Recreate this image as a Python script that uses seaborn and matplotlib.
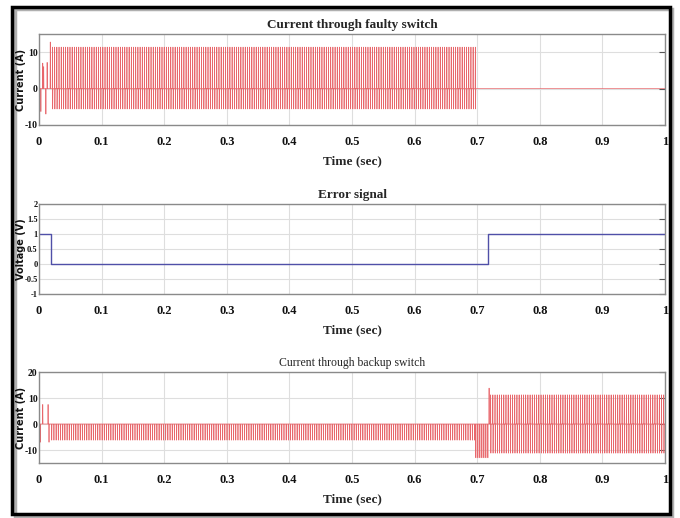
import numpy as np
import pandas as pd
import matplotlib
matplotlib.use("Agg")
import matplotlib.pyplot as plt
import seaborn as sns
from matplotlib.patches import Rectangle

# ---------------- data ----------------
x_ticks = [0, 0.1, 0.2, 0.3, 0.4, 0.5, 0.6, 0.7, 0.8, 0.9, 1]
x_tick_labels = ["0", "0.1", "0.2", "0.3", "0.4", "0.5", "0.6", "0.7", "0.8", "0.9", "1"]

# faulty switch: isolated transient spikes (time, value)
faulty_spike_t = [0.003, 0.006, 0.0075, 0.011, 0.013, 0.018]
faulty_spike_v = [-6.3, 7.0, 6.0, -7.0, 7.2, 12.8]
# faulty switch pulse train segments: start, stop, period, peak high, peak low
faulty_train_start = [0.0215]
faulty_train_stop = [0.699]
faulty_train_period = [0.0035]
faulty_train_high = [11.4]
faulty_train_low = [-5.6]

# error signal steps
error_t = [0.0, 0.019, 0.019, 0.717, 0.717, 1.0]
error_v = [1.0, 1.0, 0.0, 0.0, 1.0, 1.0]

# backup switch transient spikes
backup_spike_t = [0.002, 0.006, 0.0145, 0.016]
backup_spike_v = [-7.0, 7.5, 7.5, -7.0]
backup_train_start = [0.02, 0.6975, 0.7215]
backup_train_stop = [0.697, 0.717, 1.0]
backup_train_period = [0.0035, 0.0032, 0.0035]
backup_train_high = [0.0, 0.0, 11.2]
backup_train_low = [-6.2, -13.0, -11.2]
backup_big_spike_t = [0.719]
backup_big_spike_v = [13.8]


def build_wave(spike_t, spike_v, starts, stops, periods, highs, lows, w=0.00035):
    pts = [(0.0, 0.0)]
    for ts, vs in zip(spike_t, spike_v):
        pts += [(ts - w, 0.0), (ts, vs), (ts + w, 0.0)]
    for s, e, p, h, l in zip(starts, stops, periods, highs, lows):
        tp = s
        while tp < e:
            pts += [(tp - w, 0.0), (tp, h), (tp + w, l), (tp + 2 * w, 0.0)]
            tp += p
    pts.append((1.0, 0.0))
    pts.sort(key=lambda q: q[0])
    return pd.DataFrame(pts, columns=["t", "v"])


faulty_df = build_wave(faulty_spike_t, faulty_spike_v, faulty_train_start,
                       faulty_train_stop, faulty_train_period,
                       faulty_train_high, faulty_train_low)
backup_df = build_wave(backup_spike_t + backup_big_spike_t,
                       backup_spike_v + backup_big_spike_v,
                       backup_train_start, backup_train_stop,
                       backup_train_period, backup_train_high, backup_train_low)
error_df = pd.DataFrame({"t": error_t, "v": error_v})

# ---------------- figure ----------------
sns.set_theme(style="whitegrid")
plt.rcParams["font.family"] = ["Liberation Serif", "DejaVu Serif"]

fig = plt.figure(figsize=(6.8, 5.18), dpi=100)
fig.patch.set_facecolor("white")

W, H = 680.0, 518.0
def box(l, r, t, b):
    return [l / W, 1 - b / H, (r - l) / W, (b - t) / H]

ax1 = fig.add_axes(box(39, 665, 34, 125))
ax2 = fig.add_axes(box(39, 665, 204, 294))
ax3 = fig.add_axes(box(39, 665, 372, 463))

red = "#e8666b"
blue = "#5050a8"

sns.lineplot(data=faulty_df, x="t", y="v", ax=ax1, color=red, lw=0.5,
             estimator=None, sort=False)
sns.lineplot(data=error_df, x="t", y="v", ax=ax2, color=blue, lw=1.0,
             estimator=None, sort=False)
sns.lineplot(data=backup_df, x="t", y="v", ax=ax3, color=red, lw=0.5,
             estimator=None, sort=False)

ylims = [(-10, 15), (-1, 2), (-15, 20)]
yticks = [[-10, 0, 10], [-1, -0.5, 0, 0.5, 1, 1.5, 2], [-10, 0, 10, 20]]
ytlabels = [["-10", "0", "10"], ["-1", "-0.5", "0", "0.5", "1", "1.5", "2"],
            ["-10", "0", "10", "20"]]
ytsize = [7, 6, 7]
ylabels = ["Current (A)", "Voltage (V)", "Current (A)"]
ycenters = [79.5, 249, 417.5]
titles = ["Current through faulty switch", "Error signal", "Current through backup switch"]
title_bold = ["bold", "bold", "normal"]

for ax, yl, yt, ytl, yts, ylab, yc, ttl, tw in zip([ax1, ax2, ax3], ylims, yticks,
                                                  ytlabels, ytsize, ylabels, ycenters,
                                                  titles, title_bold):
    ax.set_facecolor("white")
    ax.set_xlim(0, 1)
    ax.set_ylim(*yl)
    ax.set_xticks(x_ticks)
    ax.set_xticklabels(x_tick_labels, fontsize=9, fontweight="bold")
    ax.set_yticks(yt)
    ax.set_yticklabels(ytl, fontsize=yts, fontweight="bold")
    ax.grid(True, color="#dedede", lw=0.8)
    for sp in ax.spines.values():
        sp.set_color("#8a8a8a")
        sp.set_linewidth(1.0)
    ax.tick_params(axis="x", direction="in", length=4, width=0.8, color="#555555",
                   top=False, pad=8, labelcolor="#111111")
    ax.tick_params(axis="y", direction="in", length=4, width=0.8, color="#555555",
                   right=True, pad=1, labelcolor="#111111")
    ax.set_xlabel("Time (sec)", fontsize=9.5, fontweight="bold", labelpad=5)
    ax.set_ylabel("")
    fig.text(20.5 / W, 1 - yc / H, ylab, rotation=90, ha="center", va="center",
             fontsize=7, fontweight="bold", family="DejaVu Sans", color="#111111")
    ax.set_title(ttl, fontsize=9.5 if tw == "bold" else 8.5, fontweight=tw, pad=4)

# outer frame
fig.patches.append(Rectangle((15 / W, 1 - 516 / H), 657 / W, 507 / H,
                             transform=fig.transFigure, fill=False,
                             edgecolor="#b0b0b0", lw=2.5, zorder=-2))
fig.patches.append(Rectangle((12 / W, 1 - 514 / H), 658 / W, 507 / H,
                             transform=fig.transFigure, fill=False,
                             edgecolor="black", lw=2.5, zorder=-1))

fig.savefig("out.png", dpi=100, facecolor="white")
